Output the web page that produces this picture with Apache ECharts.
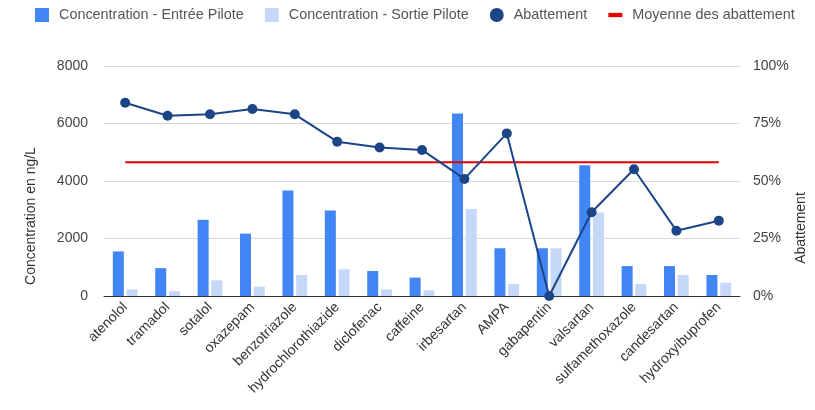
<!DOCTYPE html>
<html>
<head>
<meta charset="utf-8">
<script src="https://cdn.jsdelivr.net/npm/echarts@6/dist/echarts.min.js"></script>
<style>
  html, body { margin: 0; padding: 0; background: #fff; }
  #chart { width: 815px; height: 410px; }
</style>
</head>
<body>
<div id="chart"></div>
<script>
// Substances analysed on the pilot
const categories = ['atenolol', 'tramadol', 'sotalol', 'oxazepam', 'benzotriazole',
  'hydrochlorothiazide', 'diclofenac', 'caffeine', 'irbesartan', 'AMPA', 'gabapentin',
  'valsartan', 'sulfamethoxazole', 'candesartan', 'hydroxyibuprofen'];

// Concentrations in ng/L
const entreePilote = [1550, 970, 2650, 2170, 3670, 2970, 870, 640, 6350, 1660, 1660, 4550, 1040, 1040, 730];
const sortiePilote = [230, 170, 545, 325, 730, 930, 230, 200, 3030, 420, 1660, 2910, 420, 730, 460];

// Removal rate in %
const abattement = [84.0, 78.4, 79.0, 81.3, 79.0, 67.1, 64.6, 63.5, 50.9, 70.7, 0, 36.4, 55.1, 28.4, 32.7];
const moyenneAbattement = [58.1, 58.1, 58.1, 58.1, 58.1, 58.1, 58.1, 58.1, 58.1, 58.1, 58.1, 58.1, 58.1, 58.1, 58.1];

// Axis ticks
const concentrationTicks = { min: 0, max: 8000, interval: 2000 };
const pourcentTicks = { min: 0, max: 100, interval: 25 };

const FONT = "'Liberation Sans', Arial, sans-serif";

const chart = echarts.init(document.getElementById('chart'), null, { renderer: 'canvas' });

chart.setOption({
  animation: false,
  textStyle: { fontFamily: FONT },
  legend: {
    left: 35,
    top: 8,
    padding: 0,
    itemWidth: 14,
    itemHeight: 14,
    itemGap: 21,
    textStyle: { fontFamily: FONT, fontSize: 14.4, color: '#555', padding: [0, 0, 0, 5] },
    data: [
      { name: 'Concentration - Entrée Pilote', icon: 'rect' },
      { name: 'Concentration - Sortie Pilote', icon: 'rect' },
      { name: 'Abattement', icon: 'circle' },
      { name: 'Moyenne des abattement', icon: 'path://M0,0 H13 V4 H0 Z' }
    ]
  },
  grid: { left: 104, right: 75, top: 66, bottom: 114, outerBoundsMode: 'none', containLabel: false },
  xAxis: {
    type: 'category',
    data: categories,
    axisTick: { show: false },
    axisLine: { lineStyle: { color: '#333', width: 1 } },
    axisLabel: {
      rotate: 45,
      margin: 9,
      interval: 0,
      fontFamily: FONT,
      fontSize: 14,
      color: '#333'
    }
  },
  yAxis: [
    {
      type: 'value',
      min: concentrationTicks.min,
      max: concentrationTicks.max,
      interval: concentrationTicks.interval,
      axisLine: { show: false },
      axisTick: { show: false },
      splitLine: { lineStyle: { color: '#d9d9d9' } },
      axisLabel: {
        margin: 16, fontFamily: FONT, fontSize: 14, color: '#444',
        formatter: (v) => String(v)
      }
    },
    {
      type: 'value',
      min: pourcentTicks.min,
      max: pourcentTicks.max,
      interval: pourcentTicks.interval,
      axisLine: { show: false },
      axisTick: { show: false },
      splitLine: { show: false },
      axisLabel: {
        margin: 13, fontFamily: FONT, fontSize: 14, color: '#444',
        formatter: (v) => v + '%'
      }
    }
  ],
  graphic: [
    {
      type: 'text',
      x: 31, y: 216, rotation: Math.PI / 2,
      style: {
        text: 'Concentration en ng/L', fontFamily: FONT, fontSize: 14, fill: '#333',
        align: 'center', verticalAlign: 'middle'
      }
    },
    {
      type: 'text',
      x: 801, y: 228, rotation: Math.PI / 2,
      style: {
        text: 'Abattement', fontFamily: FONT, fontSize: 14, fill: '#333',
        align: 'center', verticalAlign: 'middle'
      }
    }
  ],
  series: [
    {
      name: 'Concentration - Entrée Pilote',
      type: 'bar',
      yAxisIndex: 0,
      data: entreePilote,
      barWidth: 11,
      barGap: '25%',
      itemStyle: { color: '#4285f4' }
    },
    {
      name: 'Concentration - Sortie Pilote',
      type: 'bar',
      yAxisIndex: 0,
      data: sortiePilote,
      barWidth: 11,
      itemStyle: { color: '#c6d8f7' }
    },
    {
      name: 'Moyenne des abattement',
      type: 'line',
      yAxisIndex: 1,
      data: moyenneAbattement,
      symbol: 'none',
      lineStyle: { color: '#e60000', width: 2 },
      itemStyle: { color: '#e60000' },
      z: 3
    },
    {
      name: 'Abattement',
      type: 'line',
      yAxisIndex: 1,
      data: abattement,
      symbol: 'circle',
      symbolSize: 10,
      lineStyle: { color: '#1c4587', width: 2 },
      itemStyle: { color: '#1c4587' },
      z: 4
    }
  ]
});
</script>
</body>
</html>
